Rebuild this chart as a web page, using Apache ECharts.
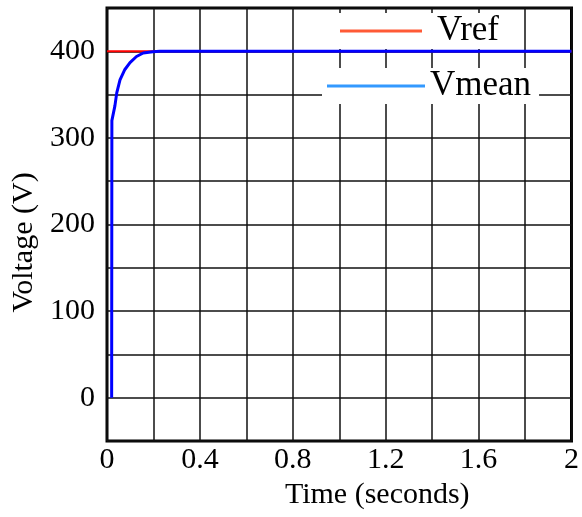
<!DOCTYPE html>
<html>
<head>
<meta charset="utf-8">
<style>
  html, body { margin: 0; padding: 0; background: #fff; }
  #chart { width: 582px; height: 517px; }
</style>
<script src="https://cdn.jsdelivr.net/npm/echarts@6/dist/echarts.min.js"></script>
</head>
<body>
<div id="chart"></div>
<script>
// reference and measured mean voltage, [time s, volts]
var vrefData = [[0, 400], [2, 400]];
var vmeanData = [
  [0.02, 0], [0.021, 320], [0.034, 337], [0.042, 352], [0.056, 367],
  [0.077, 379], [0.099, 387], [0.127, 394], [0.156, 398], [0.197, 399.5],
  [0.227, 400], [2, 400]
];
var xLabels = ['0', '0.4', '0.8', '1.2', '1.6', '2'];
var yLabels = [0, 100, 200, 300, 400];

var serif = 'Liberation Serif, Times New Roman, serif';
var chart = echarts.init(document.getElementById('chart'), null, { renderer: 'canvas' });

chart.setOption({
  backgroundColor: '#fff',
  animation: false,
  grid: {
    left: 107, right: 9, top: 8, bottom: 76,
    show: true, borderColor: '#000', borderWidth: 3
  },
  legend: [{
    data: [{ name: 'Vref', icon: 'rect', itemStyle: { color: '#ff5a36' } }],
    left: 335, top: 13,
    padding: [0, 8, 0, 5],
    itemWidth: 82, itemHeight: 3,
    backgroundColor: '#fff',
    textStyle: { fontFamily: serif, fontSize: 35, color: '#000', lineHeight: 36, padding: [0, 0, 0, 10] }
  }, {
    data: [{ name: 'Vmean', icon: 'rect', itemStyle: { color: '#3399ff' } }],
    left: 322, top: 68,
    padding: [0, 8, 0, 5],
    itemWidth: 98, itemHeight: 3,
    backgroundColor: '#fff',
    textStyle: { fontFamily: serif, fontSize: 35, color: '#000', lineHeight: 36 }
  }],
  xAxis: {
    type: 'value',
    min: 0, max: 2, interval: 0.2,
    name: 'Time (seconds)',
    nameLocation: 'middle',
    nameGap: 38,
    nameTextStyle: { fontFamily: serif, fontSize: 30, color: '#000', padding: [0, 0, 0, 76] },
    axisLine: { show: false },
    axisTick: { show: false },
    axisLabel: {
      fontFamily: serif, fontSize: 30, color: '#000', margin: 4,
      formatter: function (v) {
        var k = Math.round(v * 10);
        if (k % 4 !== 0) return '';
        return xLabels[k / 4];
      }
    },
    splitLine: { lineStyle: { color: '#111', width: 1.5 } }
  },
  yAxis: {
    type: 'value',
    min: -50, max: 450, interval: 50,
    name: 'Voltage (V)',
    nameLocation: 'middle',
    nameGap: 64,
    nameTextStyle: { fontFamily: serif, fontSize: 30, color: '#000', padding: [0, 36, 0, 0] },
    axisLine: { show: false },
    axisTick: { show: false },
    axisLabel: {
      fontFamily: serif, fontSize: 30, color: '#000', margin: 12,
      formatter: function (v) {
        return yLabels.indexOf(Math.round(v)) >= 0 ? String(Math.round(v)) : '';
      }
    },
    splitLine: { lineStyle: { color: '#111', width: 1.5 } }
  },
  series: [{
    name: 'Vref',
    type: 'line',
    data: vrefData,
    symbol: 'none',
    lineStyle: { color: '#ff0000', width: 2 },
    itemStyle: { color: '#ff0000' },
    z: 2
  }, {
    name: 'Vmean',
    type: 'line',
    data: vmeanData,
    symbol: 'none',
    lineStyle: { color: '#0000ff', width: 3 },
    itemStyle: { color: '#0000ff' },
    z: 3
  }]
});
</script>
</body>
</html>
